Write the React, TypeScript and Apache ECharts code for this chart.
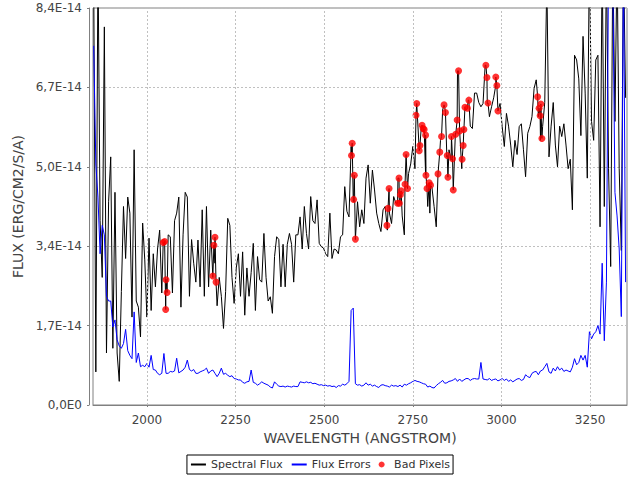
import React, { useEffect, useRef } from "react";
import * as echarts from "echarts";

// Flux values are in units of 1E-14 erg/cm2/s/A
const WL_START = 1850;
const WL_STEP = 6;

const FLUX = [
  9.0, 0.7, 9.5, 3.9, 2.7, 8.0, 1.1, 4.3, 5.25, 1.2,
  4.5, 1.1, 0.5, 2.4, 4.2, 3.1, 4.4, 4.06, 1.86, 5.4,
  2.2, 2.07, 1.44, 3.85, 3.07, 1.86, 3.53, 2.0, 3.2, 2.5,
  3.3, 3.7, 2.37, 3.4, 2.66, 3.6, 3.56, 2.37, 3.9, 4.06,
  4.4, 2.07, 3.6, 4.5, 4.4, 2.3, 3.5, 3.0, 2.6, 3.49,
  2.5, 4.13, 2.3, 4.2, 2.5, 3.7, 2.7, 3.0, 2.1, 2.7,
  2.3, 1.62, 2.4, 3.95, 3.8, 2.7, 2.15, 2.9, 3.2, 2.3,
  3.24, 1.9, 2.9, 2.3, 2.8, 3.42, 2.0, 3.14, 2.65, 2.6,
  3.63, 2.7, 2.2, 2.29, 1.94, 3.14, 3.56, 3.5, 2.5, 3.4,
  2.5, 3.4, 3.63, 3.4, 2.6, 3.6, 3.6, 3.98, 3.3, 4.2,
  3.63, 3.3, 4.41, 3.9, 3.84, 4.34, 3.42, 3.35, 3.32, 3.2,
  3.14, 4.06, 3.1, 3.3, 3.28, 3.2, 3.56, 3.6, 4.62, 4.1,
  3.98, 5.47, 4.3, 3.5, 4.3, 3.77, 4.13, 3.84, 4.8, 5.08,
  4.27, 4.97, 4.55, 4.06, 3.84, 3.67, 4.13, 4.2, 3.7, 4.06,
  3.84, 4.41, 4.27, 4.8, 4.27, 4.0, 3.6, 5.31, 4.9, 5.1,
  5.47, 5.0, 6.38, 5.4, 5.89, 5.78, 4.87, 4.2, 4.06, 4.6,
  4.2, 3.77, 4.9, 5.6, 6.24, 6.3, 5.25, 5.4, 5.18, 4.55,
  5.75, 7.07, 5.78, 5.0, 5.85, 6.24, 6.45, 5.9, 5.85, 6.6,
  6.6, 6.4, 6.31, 6.38, 7.19, 6.38, 6.1, 6.31, 6.5, 6.77,
  6.24, 6.38, 5.89, 5.47, 6.17, 5.9, 5.5, 5.04, 5.6, 5.3,
  5.89, 5.95, 5.4, 4.83, 5.75, 5.89, 6.1, 6.7, 6.88, 6.1,
  5.6, 5.89, 6.4, 9.0, 5.25, 5.9, 6.4, 5.5, 5.04, 5.9,
  5.68, 5.95, 5.5, 5.0, 5.2, 4.13, 7.4, 7.3, 6.9, 5.7,
  7.8, 6.6, 4.8, 9.5, 6.0, 5.6, 7.3, 7.4, 3.77, 9.5,
  4.2, 9.5, 5.0, 2.93, 9.5, 6.0, 9.5, 5.0, 3.27, 9.5,
  6.5,
];

const ERRORS = [
  7.6, 5.1, 4.4, 3.2, 3.8, 3.6, 2.3, 2.2, 2.2, 1.65,
  1.8, 1.38, 1.25, 1.2, 1.3, 1.6, 1.15, 1.05, 0.98, 1.97,
  0.9, 1.1, 0.81, 0.84, 0.81, 0.88, 0.8, 1.05, 0.75, 0.74,
  0.67, 0.64, 0.67, 1.09, 0.67, 0.67, 0.71, 0.7, 0.72, 0.99,
  0.68, 0.71, 0.74, 0.8, 0.95, 0.75, 0.72, 0.75, 0.67, 0.67,
  0.7, 0.72, 0.74, 0.78, 0.67, 0.72, 0.74, 0.67, 0.6, 0.67,
  0.78, 0.65, 0.67, 0.63, 0.6, 0.62, 0.56, 0.55, 0.53, 0.53,
  0.48, 0.46, 0.49, 0.5, 0.74, 0.48, 0.46, 0.42, 0.45, 0.49,
  0.46, 0.44, 0.42, 0.38, 0.36, 0.49, 0.44, 0.4, 0.39, 0.4,
  0.38, 0.4, 0.39, 0.38, 0.4, 0.39, 0.39, 0.49, 0.48, 0.47,
  0.49, 0.47, 0.48, 0.45, 0.46, 0.44, 0.42, 0.43, 0.41, 0.42,
  0.4, 0.41, 0.39, 0.4, 0.37, 0.41, 0.4, 0.44, 0.42, 0.45,
  0.5, 2.0, 2.05, 0.45, 0.42, 0.43, 0.4, 0.42, 0.47, 0.42,
  0.44, 0.4, 0.42, 0.39, 0.37, 0.42, 0.43, 0.41, 0.4, 0.38,
  0.42, 0.4, 0.41, 0.39, 0.42, 0.38, 0.44, 0.42, 0.45, 0.47,
  0.5, 0.52, 0.5, 0.49, 0.47, 0.45, 0.44, 0.38, 0.4, 0.37,
  0.36, 0.41, 0.45, 0.48, 0.52, 0.46, 0.47, 0.5, 0.51, 0.53,
  0.56, 0.5, 0.55, 0.5, 0.53, 0.56, 0.56, 0.52, 0.55, 0.56,
  0.55, 0.55, 0.9, 0.55, 0.54, 0.53, 0.56, 0.52, 0.54, 0.55,
  0.51, 0.53, 0.56, 0.52, 0.55, 0.5, 0.53, 0.49, 0.52, 0.55,
  0.56, 0.52, 0.54, 0.64, 0.6, 0.58, 0.67, 0.7, 0.71, 0.64,
  0.72, 0.74, 0.81, 0.88, 0.7, 0.67, 0.78, 0.72, 0.81, 0.74,
  0.78, 0.71, 0.74, 0.72, 0.7, 0.8, 0.98, 0.85, 0.9, 1.05,
  0.95, 1.05, 0.8, 1.55, 1.4, 1.5, 1.55, 1.68, 1.5, 3.0,
  1.36, 2.6, 9.5, 9.5, 9.0, 4.5, 4.0, 3.3, 1.87, 9.5,
  2.6,
];

const BAD_WL = [
  2046, 2050, 2053, 2054, 2057, 2186, 2189, 2192, 2195,
  2577, 2579, 2583, 2585, 2588, 2677, 2680, 2683,
  2707, 2712, 2715, 2717, 2711, 2728, 2731, 2735,
  2759, 2761, 2768, 2770, 2776, 2779, 2782, 2786, 2787, 2790, 2796, 2800,
  2821, 2826, 2831, 2838, 2842, 2847, 2849, 2859, 2862, 2864,
  2871, 2875, 2879, 2882, 2889, 2892, 2894, 2897, 2904, 2908,
  2956, 2959, 2962, 2984, 2987, 2990,
  3102, 3106, 3109, 3111, 3114,
];

const BAD_FLUX = [
  3.44, 3.46, 2.02, 2.65, 2.38, 2.73, 3.38, 3.55, 2.6,
  5.28, 5.54, 4.35, 4.86, 3.51, 3.8, 4.16, 4.58,
  4.27, 4.27, 4.45, 4.53, 4.8, 4.67, 5.3, 4.58,
  6.13, 6.38, 5.38, 5.49, 5.92, 5.85, 5.83, 5.71, 4.86, 4.58, 4.7, 4.65,
  4.89, 5.35, 5.68, 6.35, 6.19, 5.28, 4.82, 5.68, 5.21, 4.55,
  5.73, 6.03, 7.07, 5.8, 5.2, 5.49, 5.83, 6.3, 6.28, 6.45,
  7.19, 6.93, 6.39, 6.94, 6.76, 6.22,
  6.52, 6.28, 6.12, 6.37, 5.64,
];

const X_TICKS = [2000, 2250, 2500, 2750, 3000, 3250];
const X_MIN = 1848;
const X_MAX = 3354;
const Y_MAX = 8.4;
const Y_STEP = 1.68;

const FONT = "DejaVu Sans";
const TEXT_COLOR = "#444444";
const AXIS_COLOR = "#808080";
const GRID_COLOR = "#c0c0c0";

export default function App() {
  const ref = useRef<HTMLDivElement>(null);

  useEffect(() => {
    if (!ref.current) return;
    const chart = echarts.init(ref.current, undefined, { renderer: "svg" });

    const sampled = FLUX.map((v, i) => [WL_START + i * WL_STEP, v]);
    const badPts = BAD_WL.map((w, i) => [w, BAD_FLUX[i]]);
    const fluxPts = sampled.concat(badPts).sort((a, b) => a[0] - b[0]);
    const errPts = ERRORS.map((v, i) => [WL_START + i * WL_STEP, v]);

    const yFmt = (v: number) =>
      v === 0 ? "0,0E0" : v.toFixed(1).replace(".", ",") + "E-14";

    chart.setOption({
      animation: false,
      backgroundColor: "#ffffff",
      grid: {
        left: 93,
        right: 13,
        top: 8,
        bottom: 75,
        show: true,
        borderColor: AXIS_COLOR,
        borderWidth: 1,
        backgroundColor: "#ffffff",
      },
      legend: {
        data: [
          { name: "Spectral Flux", itemStyle: { opacity: 0 } },
          { name: "Flux Errors", itemStyle: { opacity: 0 } },
          { name: "Bad Pixels" },
        ],
        top: 455,
        left: "center",
        orient: "horizontal",
        borderColor: "#000000",
        borderWidth: 1,
        borderRadius: 0,
        padding: [4, 3, 4, 3],
        itemWidth: 15,
        itemHeight: 6,
        itemGap: 8,
        textStyle: { fontFamily: FONT, fontSize: 11, color: "#333333" },
      },
      xAxis: {
        type: "value",
        min: X_MIN,
        max: X_MAX,
        offset: 4,
        name: "WAVELENGTH (ANGSTROM)",
        nameLocation: "middle",
        nameGap: 22,
        nameTextStyle: { fontFamily: FONT, fontSize: 14, color: TEXT_COLOR },
        axisLine: { show: true, lineStyle: { color: AXIS_COLOR, width: 1 } },
        axisTick: {
          show: true,
          length: 2,
          customValues: X_TICKS,
          lineStyle: { color: AXIS_COLOR },
        },
        axisLabel: {
          customValues: X_TICKS,
          formatter: (v: number) => String(v),
          fontFamily: FONT,
          fontSize: 12,
          color: TEXT_COLOR,
          margin: 5,
        },
        splitLine: { show: false },
      },
      yAxis: {
        type: "value",
        min: 0,
        max: Y_MAX,
        interval: Y_STEP,
        offset: 4,
        name: "FLUX (ERG/CM2/S/A)",
        nameLocation: "middle",
        nameGap: 62,
        nameTextStyle: { fontFamily: FONT, fontSize: 14, color: TEXT_COLOR },
        axisLine: { show: true, lineStyle: { color: AXIS_COLOR, width: 1 } },
        axisTick: { show: true, length: 2, lineStyle: { color: AXIS_COLOR } },
        axisLabel: {
          formatter: yFmt,
          fontFamily: FONT,
          fontSize: 12,
          color: TEXT_COLOR,
          margin: 7,
        },
        splitLine: {
          show: true,
          lineStyle: { color: GRID_COLOR, type: [2, 2], width: 1 },
        },
      },
      series: [
        {
          name: "xGrid",
          type: "line",
          data: [],
          silent: true,
          z: 1,
          markLine: {
            silent: true,
            symbol: "none",
            animation: false,
            label: { show: false },
            lineStyle: { color: GRID_COLOR, type: [2, 2], width: 1 },
            emphasis: { disabled: true },
            data: X_TICKS.map((x) => ({ xAxis: x })),
          },
        },
        {
          name: "Spectral Flux",
          type: "line",
          data: fluxPts,
          symbol: "none",
          color: "#000000",
          lineStyle: { color: "#000000", width: 1 },
          clip: true,
          z: 2,
        },
        {
          name: "Flux Errors",
          type: "line",
          data: errPts,
          symbol: "none",
          color: "#0000ff",
          lineStyle: { color: "#0000ff", width: 1 },
          clip: true,
          z: 3,
        },
        {
          name: "Bad Pixels",
          type: "scatter",
          data: badPts,
          symbol: "circle",
          symbolSize: 7,
          color: "#ff0000",
          itemStyle: { color: "#ff0000" },
          z: 4,
        },
      ],
    });

    return () => chart.dispose();
  }, []);

  return (
    <div
      ref={ref}
      style={{
        position: "fixed",
        left: 0,
        top: 0,
        width: 640,
        height: 480,
        background: "#ffffff",
      }}
    />
  );
}
